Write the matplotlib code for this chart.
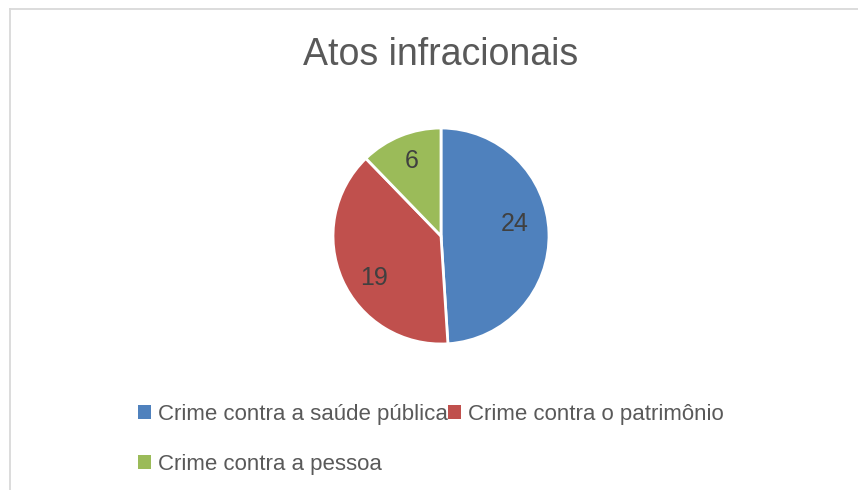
import matplotlib.pyplot as plt
from matplotlib.patches import Patch
from matplotlib.lines import Line2D

plt.rcParams["font.family"] = ["Liberation Sans", "DejaVu Sans"]

# Dados
categorias = ["Crime contra a saúde pública", "Crime contra o patrimônio", "Crime contra a pessoa"]
valores = [24, 19, 6]
cores = ["#4F81BD", "#C0504D", "#9BBB59"]

W, H = 858, 490
fig = plt.figure(figsize=(W / 100, H / 100), dpi=100)

# borda do gráfico
borda = "#D9D9D9"
fig.add_artist(Line2D([9.5 / W, 1.0], [1 - 9.5 / H, 1 - 9.5 / H], color=borda, lw=1.3))
fig.add_artist(Line2D([9.5 / W, 9.5 / W], [0, 1 - 9.5 / H], color=borda, lw=1.3))

fig.text(441 / W, 1 - 55 / H, "Atos infracionais", ha="center", va="center",
         fontsize=27, color="#595959")

# pizza: centro (441, 236), raio 108 px
r = 108
lado = 2.5 * r
ax = fig.add_axes([(441 - lado / 2) / W, (H - 236 - lado / 2) / H, lado / W, lado / H])
wedges, textos = ax.pie(
    valores,
    colors=cores,
    startangle=90,
    counterclock=False,
    labels=[str(v) for v in valores],
    labeldistance=0.68,
    wedgeprops=dict(edgecolor="white", linewidth=2),
    textprops=dict(fontsize=18, color="#404040", ha="center", va="center"),
)
# pequeno ajuste dos rótulos (posição "melhor ajuste" do Excel)
ajustes = [(0.0, 0.09), (0.0, -0.11), (-0.02, 0.06)]
for t, (dx, dy) in zip(textos, ajustes):
    x, y = t.get_position()
    t.set_position((x + dx, y + dy))
ax.set_xlim(-1.25, 1.25)
ax.set_ylim(-1.25, 1.25)

# legenda (ordem para preencher linha a linha)
ordem = [0, 2, 1]
handles = [Patch(facecolor=cores[i], edgecolor="none") for i in ordem]
rotulos = [categorias[i] for i in ordem]
fig.legend(
    handles, rotulos,
    ncol=2,
    loc="upper left",
    bbox_to_anchor=(138 / W, 1 - 404 / H),
    frameon=False,
    fontsize=16,
    labelcolor="#595959",
    handlelength=0.6,
    handleheight=0.6,
    handletextpad=0.3,
    columnspacing=0.0,
    labelspacing=1.3,
    borderpad=0,
    borderaxespad=0,
)

plt.savefig("out.png", dpi=100)
